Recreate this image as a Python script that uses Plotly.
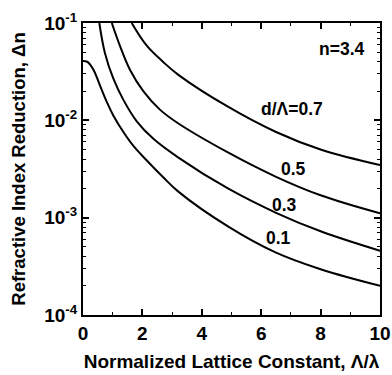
import numpy as np
import plotly.graph_objects as go

# Values (log10 of Δn) for each d/Λ curve
x_01 = [0.0, 0.15, 0.35, 0.57, 0.8, 1.02, 1.36, 1.69, 2.14, 2.7, 3.2, 4.88, 6.5, 8.0, 10.0]
logdn_01 = [-1.39, -1.40, -1.48, -1.64, -1.81, -1.95, -2.12, -2.26, -2.41, -2.585, -2.73, -3.09, -3.36, -3.53, -3.70]

x_03 = [0.55, 0.74, 1.02, 1.36, 1.81, 2.37, 3.2, 4.88, 6.5, 8.0, 10.0]
logdn_03 = [-1.0, -1.31, -1.57, -1.79, -2.01, -2.19, -2.38, -2.70, -2.95, -3.14, -3.34]

x_05 = [0.97, 1.25, 1.58, 2.03, 2.59, 3.2, 4.88, 6.5, 8.0, 10.0]
logdn_05 = [-1.0, -1.24, -1.48, -1.70, -1.89, -2.03, -2.33, -2.58, -2.77, -2.955]

x_07 = [1.64, 2.14, 2.7, 3.2, 4.88, 6.5, 8.0, 10.0]
logdn_07 = [-1.0, -1.23, -1.40, -1.53, -1.86, -2.12, -2.30, -2.46]

series = [(x_01, logdn_01), (x_03, logdn_03), (x_05, logdn_05), (x_07, logdn_07)]

labels = ["n=3.4", "d/Λ=0.7", "0.5", "0.3", "0.1"]
label_x = [8.72, 7.05, 7.1, 6.8, 6.58]
label_y = [0.054, 0.0132, 0.0032, 0.00136, 0.00062]

ytick_vals = [1e-4, 1e-3, 1e-2, 1e-1]
ytick_text = ["10<sup>-4</sup>", "10<sup>-3</sup>", "10<sup>-2</sup>", "10<sup>-1</sup>"]
yminor_vals = [k * 10.0**e for e in (-4, -3, -2) for k in range(2, 10)]

FONT = "Liberation Sans, Arial, sans-serif"

fig = go.Figure()
for xs, ls in series:
    fig.add_trace(go.Scatter(x=xs, y=[10.0**v for v in ls], mode="lines",
                             line=dict(color="black", width=2, shape="spline", smoothing=1.1),
                             showlegend=False, hoverinfo="skip"))

for t, xx, yy in zip(labels, label_x, label_y):
    fig.add_annotation(x=xx, y=np.log10(yy), text=t, showarrow=False,
                       font=dict(family=FONT, size=17.5, color="black", weight="bold"))

fig.update_layout(
    width=392, height=375,
    margin=dict(l=83, r=12, t=23, b=60),
    paper_bgcolor="white", plot_bgcolor="white",
    font=dict(family=FONT, color="black"),
)
fig.update_xaxes(
    range=[0, 10], dtick=2, tick0=0, automargin=False,
    ticks="inside", ticklen=6, tickwidth=1.5, tickcolor="black",
    minor=dict(dtick=1, ticks="inside", ticklen=3, tickwidth=1.2, tickcolor="black"),
    showline=True, linewidth=2, linecolor="black", mirror="ticks",
    showgrid=False, zeroline=False,
    tickfont=dict(family=FONT, size=19, color="black", weight="bold"),
    title=dict(text="Normalized Lattice Constant, Λ/λ", standoff=12,
               font=dict(family=FONT, size=19, color="black", weight="bold")),
)
fig.update_yaxes(
    type="log", range=[-4, -1], automargin=False,
    tickmode="array", tickvals=ytick_vals, ticktext=ytick_text,
    ticks="inside", ticklen=6, tickwidth=1.5, tickcolor="black",
    minor=dict(tickmode="array", tickvals=yminor_vals, ticks="inside", ticklen=3, tickwidth=1.2, tickcolor="black"),
    showline=True, linewidth=2, linecolor="black", mirror="ticks",
    showgrid=False, zeroline=False,
    tickfont=dict(family=FONT, size=19, color="black", weight="bold"),
    title=dict(text="Refractive Index Reduction, Δn", standoff=14,
               font=dict(family=FONT, size=18.5, color="black", weight="bold")),
)

fig.write_html("out.html", config={"displayModeBar": False},
               post_script="document.body.style.margin='0';")
